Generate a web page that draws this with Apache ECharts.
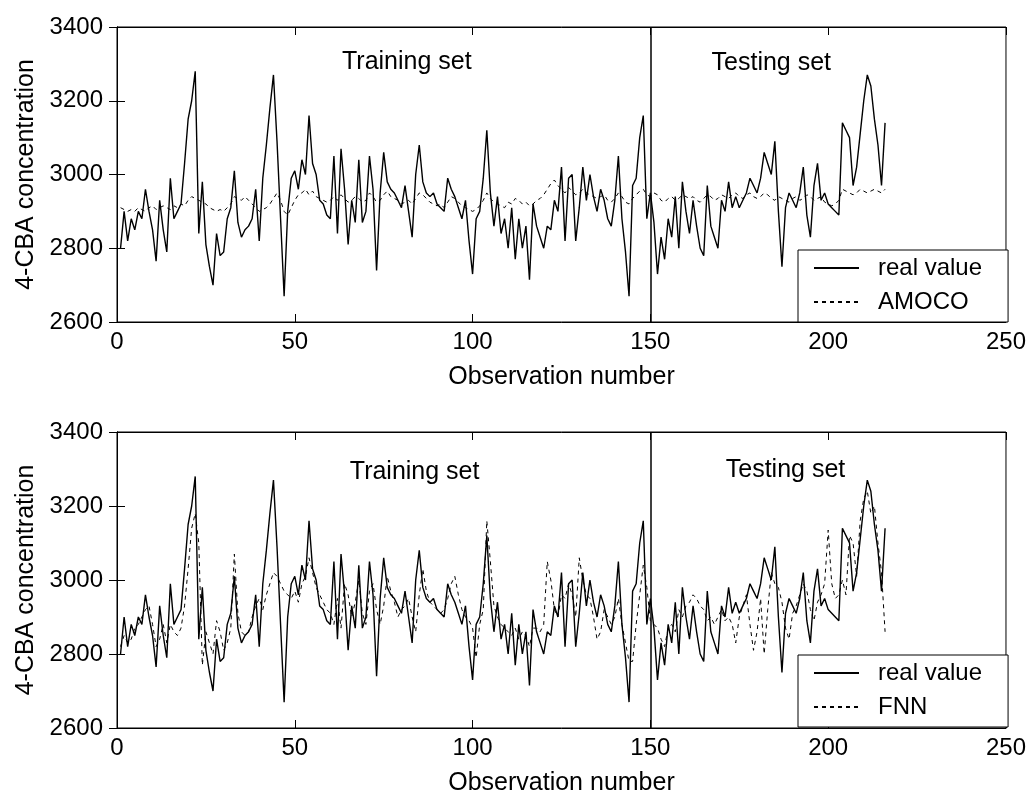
<!DOCTYPE html>
<html>
<head>
<meta charset="utf-8">
<script src="https://cdn.jsdelivr.net/npm/echarts@6/dist/echarts.min.js"></script>
<style>
  html, body { margin: 0; padding: 0; background: #fff; }
  #chart { width: 1029px; height: 799px; }
</style>
</head>
<body>
<div id="chart"></div>
<script>
// measured 4-CBA concentration, observations 1..216
const realValue = [
  2800, 2900, 2820, 2880, 2850, 2900, 2880, 2960, 2900, 2850,
  2765, 2930, 2850, 2790, 2990, 2880, 2900, 2920, 3030, 3150,
  3200, 3280, 2840, 2980, 2810, 2750, 2700, 2840, 2780, 2790,
  2880, 2910, 3010, 2870, 2830, 2850, 2860, 2880, 2960, 2820,
  2990, 3080, 3180, 3270, 3090, 2880, 2670, 2900, 2990, 3010,
  2960, 3040, 3000, 3160, 3030, 3000, 2930, 2920, 2890, 2880,
  3050, 2840, 3070, 2960, 2810, 2930, 2870, 3040, 2870, 2900,
  3050, 2960, 2740, 2950, 3060, 2980, 2960, 2950, 2930, 2910,
  2970, 2900, 2830, 3000, 3080, 2980, 2950, 2940, 2950, 2920,
  2910, 2900, 2990, 2960, 2940, 2910, 2880, 2930, 2820, 2730,
  2880, 2900, 2990, 3120, 2950, 2860, 2940, 2840, 2880, 2800,
  2910, 2770, 2880, 2800, 2860, 2715, 2920, 2860, 2830, 2800,
  2860, 2850, 2930, 2900, 3020, 2820, 2990, 3000, 2820, 2910,
  3020, 2930, 3000, 2940, 2900, 2960, 2930, 2880, 2860, 2930,
  3050, 2880, 2790, 2670, 2970, 2990, 3100, 3160, 2880, 2950,
  2870, 2730, 2830, 2770, 2880, 2830, 2940, 2800, 2980, 2900,
  2840, 2930, 2860, 2800, 2780, 2970, 2860, 2830, 2800, 2930,
  2900, 2980, 2910, 2940, 2910, 2930, 2950, 2990, 2970, 2950,
  2990, 3060, 3030, 3000, 3090, 2900, 2750, 2910, 2950, 2930,
  2910, 2950, 3020, 2890, 2830, 2970, 3030, 2930, 2950, 2920,
  2910, 2900, 2890, 3140, 3120, 3100, 2970, 3020, 3110, 3200,
  3270, 3240, 3150, 3080, 2970, 3140
];

// AMOCO model prediction
const amoco = [
  2910, 2905, 2900, 2905, 2900, 2910, 2905, 2900, 2910, 2915,
  2905, 2910, 2915, 2910, 2905, 2915, 2910, 2920, 2915, 2930,
  2940, 2935, 2930, 2925, 2920, 2910, 2905, 2900, 2905, 2900,
  2910, 2920, 2940, 2935, 2930, 2940, 2930, 2920, 2910, 2900,
  2905, 2910, 2920, 2935, 2950, 2930, 2900, 2890, 2910, 2930,
  2945, 2950, 2960, 2945, 2955, 2940, 2935, 2930, 2925, 2930,
  2940, 2930, 2945, 2935, 2925, 2930, 2940, 2935, 2925, 2930,
  2950, 2940, 2925, 2930, 2945, 2955, 2940, 2935, 2930, 2920,
  2925, 2930, 2920, 2935, 2950, 2945, 2935, 2925, 2920, 2915,
  2920, 2910, 2925, 2940, 2935, 2925, 2915, 2910, 2905, 2900,
  2905, 2915, 2930, 2950, 2935, 2925, 2920, 2915, 2910, 2925,
  2920, 2935, 2930, 2920, 2925, 2915, 2920, 2930, 2935, 2945,
  2960, 2975, 2985, 2970, 2960, 2950, 2965, 2955, 2945, 2950,
  2960, 2950, 2945, 2940, 2935, 2940, 2945, 2930, 2925, 2935,
  2950, 2940, 2925, 2920, 2935, 2945, 2955, 2960, 2945, 2940,
  2950, 2945, 2930, 2925, 2935, 2940, 2930, 2935, 2945, 2940,
  2935, 2940, 2930, 2925, 2935, 2945, 2940, 2930, 2935, 2945,
  2940, 2935, 2945, 2950, 2940, 2935, 2945, 2950, 2940, 2935,
  2940, 2950, 2945, 2935, 2930, 2940, 2935, 2930, 2925, 2935,
  2940, 2930, 2935, 2945, 2940, 2930, 2935, 2940, 2925, 2920,
  2915, 2920, 2930, 2960, 2955, 2950, 2945, 2950, 2960, 2955,
  2950, 2955, 2960, 2955, 2950, 2960
];

// FNN model prediction
const fnn = [
  2820, 2850, 2830, 2840, 2870, 2880, 2900, 2920, 2930, 2880,
  2820, 2840, 2880, 2830, 2880, 2860, 2850, 2870, 2930, 3030,
  3140, 3180, 3100, 2770, 2860, 2830, 2800, 2890, 2860, 2810,
  2830, 2870, 3070, 2910, 2860, 2850, 2860, 2900, 2930, 2950,
  2920, 2960, 2990, 3020, 3010, 2990, 2970, 2960, 2950, 2970,
  2940, 2990, 3010, 3060, 3020, 2980, 2960, 2940, 2920, 2910,
  2880, 2950, 2870, 2990, 2960, 2900, 2940, 3000, 2910, 2880,
  2970, 2990, 2920, 2880, 2930, 3010, 2970, 2940, 2900, 2920,
  2930, 2950, 2900, 2860, 2960, 3030, 2970, 2940, 2930, 2920,
  2910, 2920, 2950, 2990, 3010, 2960, 2920, 2900, 2890, 2870,
  2790, 2880, 2920, 3160, 3050, 2930, 2900, 2880, 2870, 2860,
  2850, 2870, 2840, 2860, 2850, 2820, 2870, 2870, 2860, 2880,
  3050, 3000, 2920, 2900, 2960, 2950, 2990, 2960, 2900, 3060,
  3000, 2960, 2950, 2900, 2840, 2860, 2920, 2900, 2880, 2900,
  2950, 2880, 2830, 2780, 2780, 2880, 2960, 3040, 2980, 2890,
  2880, 2870, 2840, 2820, 2870, 2880, 2860, 2920, 2900, 2930,
  2940, 2960, 2950, 2930, 2920, 2890, 2900, 2880, 2900, 2920,
  2890, 2900, 2880, 2830, 2900, 2930, 2960, 2880, 2810, 2860,
  2950, 2800, 2920, 3020, 2990, 2980, 2940, 2870, 2840, 2910,
  2930, 2960, 2990, 2970, 2920, 2890, 2940, 2960, 2990, 3135,
  2990, 2950, 2960, 3000, 2960, 3120, 3100, 3010, 3160, 3220,
  3240, 3180, 3200, 3100, 3020, 2860
];

const xTicks = [0, 250, 50];        // min, max, interval
const yTicks = [2600, 3400, 200];
const splitAt = 150;                 // training / testing boundary

const pairs = arr => arr.map((v, i) => [i + 1, v]);

const font = 'Liberation Sans, Arial, sans-serif';
const black = '#000';

function xAxes(gi) {
  const base = {
    type: 'value', gridIndex: gi,
    min: xTicks[0], max: xTicks[1], interval: xTicks[2],
    splitLine: { show: false },
    axisLine: { lineStyle: { color: black, width: 1 } },
    axisTick: { inside: true, length: 8, lineStyle: { color: black } }
  };
  return [
    Object.assign({}, base, {
      position: 'bottom',
      name: 'Observation number', nameLocation: 'middle', nameGap: 43,
      nameTextStyle: { color: black, fontSize: 25, fontFamily: font },
      axisLabel: { color: black, fontSize: 24, fontFamily: font, margin: 8,
        formatter: v => String(v) }
    }),
    Object.assign({}, base, { position: 'top', axisLabel: { show: false } })
  ];
}

function yAxes(gi) {
  const base = {
    type: 'value', gridIndex: gi,
    min: yTicks[0], max: yTicks[1], interval: yTicks[2],
    splitLine: { show: false },
    axisLine: { lineStyle: { color: black, width: 1 } },
    axisTick: { inside: true, length: 8, lineStyle: { color: black } }
  };
  return [
    Object.assign({}, base, {
      position: 'left',
      name: '4-CBA concentration', nameLocation: 'middle', nameGap: 78,
      nameTextStyle: { color: black, fontSize: 25, fontFamily: font },
      axisLabel: { color: black, fontSize: 24, fontFamily: font, margin: 14,
        formatter: v => String(v) }
    }),
    Object.assign({}, base, { position: 'right', axisLabel: { show: false } })
  ];
}

function setLabel(text, x, y) {
  return {
    coord: [x, y], symbolSize: 0, value: text,
    label: { show: true, position: 'inside', formatter: text,
      color: black, fontSize: 25, fontFamily: font }
  };
}

function realSeries(gi, labels) {
  return {
    name: 'real value', type: 'line',
    xAxisIndex: gi * 2, yAxisIndex: gi * 2,
    data: pairs(realValue),
    symbol: 'none', silent: true,
    lineStyle: { color: black, width: 1.4 },
    itemStyle: { color: black },
    markLine: {
      symbol: 'none', silent: true,
      label: { show: false },
      lineStyle: { color: black, type: 'solid', width: 1.5 },
      data: [{ xAxis: splitAt }]
    },
    markPoint: { silent: true, data: labels }
  };
}

function modelSeries(gi, name, data) {
  return {
    name: name, type: 'line',
    xAxisIndex: gi * 2, yAxisIndex: gi * 2,
    data: pairs(data),
    symbol: 'none', silent: true,
    lineStyle: { color: black, width: 1, type: [4, 4] },
    itemStyle: { color: black }
  };
}

function legend(top, names) {
  return {
    data: names, orient: 'vertical',
    left: 798, top: top,
    padding: [6, 26, 8, 15],
    itemWidth: 45, itemHeight: 14, itemGap: 10,
    itemStyle: { opacity: 0 },
    backgroundColor: '#fff', borderColor: black, borderWidth: 1,
    textStyle: { color: black, fontSize: 24, fontFamily: font, padding: [0, 0, 0, 14] }
  };
}

const chart = echarts.init(document.getElementById('chart'));

const option = {
  animation: false,
  backgroundColor: '#fff',
  grid: [
    { left: 117, width: 890, top: 27, height: 295,
      show: true, borderColor: black, borderWidth: 1 },
    { left: 117, width: 890, top: 432, height: 296,
      show: true, borderColor: black, borderWidth: 1 }
  ],
  xAxis: xAxes(0).concat(xAxes(1)),
  yAxis: yAxes(0).concat(yAxes(1)),
  legend: [
    legend(250, ['real value', 'AMOCO']),
    legend(655, ['real value', 'FNN'])
  ],
  series: [
    realSeries(0, [setLabel('Training set', 81.5, 3305), setLabel('Testing set', 184, 3302)]),
    modelSeries(0, 'AMOCO', amoco),
    realSeries(1, [setLabel('Training set', 83.7, 3292), setLabel('Testing set', 188, 3297)]),
    modelSeries(1, 'FNN', fnn)
  ]
};

chart.setOption(option);
</script>
</body>
</html>
